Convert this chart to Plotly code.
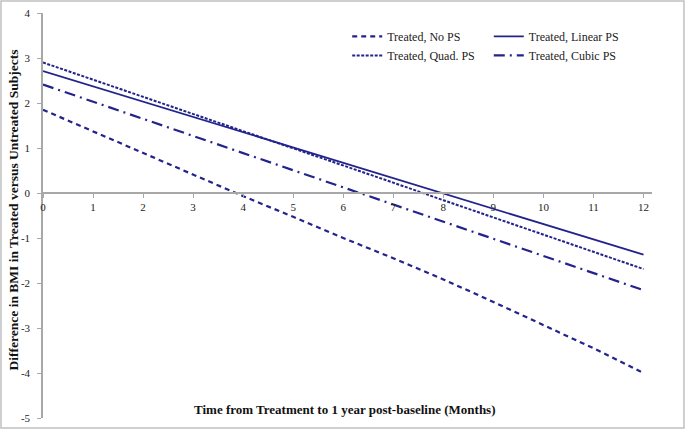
import plotly.graph_objects as go

months = list(range(13))
no_ps = [1.85, 1.37, 0.90, 0.42, -0.07, -0.53, -1.00, -1.45, -1.92, -2.42, -2.93, -3.45, -4.00]
linear_ps = [2.71, 2.37, 2.03, 1.69, 1.35, 1.01, 0.67, 0.33, -0.01, -0.35, -0.69, -1.03, -1.37]
quad_ps = [2.90, 2.52, 2.14, 1.75, 1.37, 0.99, 0.61, 0.23, -0.16, -0.54, -0.92, -1.31, -1.69]
cubic_ps = [2.41, 2.03, 1.65, 1.27, 0.89, 0.51, 0.13, -0.26, -0.64, -1.02, -1.40, -1.78, -2.16]

y_ticks = [4, 3, 2, 1, 0, -1, -2, -3, -4, -5]
x_ticks = list(range(13))

navy = "#23238c"
serif = "Liberation Serif, Times New Roman, serif"

fig = go.Figure()
fig.add_trace(go.Scatter(x=months, y=no_ps, mode="lines", name="Treated, No PS",
                         line=dict(color=navy, width=2.2, dash="5px,4px"), legend="legend"))
fig.add_trace(go.Scatter(x=months, y=quad_ps, mode="lines", name="Treated, Quad. PS",
                         line=dict(color=navy, width=2, dash="3px,1.5px"), legend="legend"))
fig.add_trace(go.Scatter(x=months, y=linear_ps, mode="lines", name="Treated, Linear PS",
                         line=dict(color=navy, width=1.8), legend="legend2"))
fig.add_trace(go.Scatter(x=months, y=cubic_ps, mode="lines", name="Treated, Cubic PS",
                         line=dict(color=navy, width=2.2, dash="11px,5px,2px,5px"), legend="legend2"))

fig.update_layout(
    width=685, height=429,
    margin=dict(l=43, r=33, t=13, b=11, autoexpand=False),
    paper_bgcolor="white", plot_bgcolor="white",
    font=dict(family=serif, size=11, color="#222"),
    xaxis=dict(range=[0, 12.17], tickvals=x_ticks, ticktext=[str(v) for v in x_ticks],
               showgrid=False, zeroline=False, showline=True, linecolor="#a8a8a8", linewidth=1.5,
               ticks="outside", ticklen=4, tickcolor="#a8a8a8", automargin=False,
               anchor="free", position=5/9, tickfont=dict(size=11, family=serif)),
    yaxis=dict(range=[-5, 4], tickvals=y_ticks, ticktext=[str(v) for v in y_ticks],
               showgrid=False, zeroline=False, showline=True, linecolor="#a8a8a8", linewidth=1.5,
               ticks="outside", ticklen=4, tickcolor="#a8a8a8", automargin=False,
               ticklabelstandoff=5, tickfont=dict(size=11, family=serif)),
    legend=dict(x=0.4995, y=0.978, xanchor="left", yanchor="top", bgcolor="rgba(0,0,0,0)",
                font=dict(size=12, family=serif, color="#222"), tracegroupgap=0),
    legend2=dict(x=0.732, y=0.978, xanchor="left", yanchor="top", bgcolor="rgba(0,0,0,0)",
                 font=dict(size=12, family=serif, color="#222"), tracegroupgap=0),
    showlegend=True,
)

fig.add_annotation(text="<b>Difference in BMI in Treated versus Untreated Subjects</b>",
                   xref="paper", yref="paper", x=-0.049, y=0.513, textangle=-90,
                   xanchor="center", yanchor="middle",
                   showarrow=False, font=dict(size=13.5, family=serif, color="#111"))
fig.add_annotation(text="<b>Time from Treatment to 1 year post-baseline (Months)</b>",
                   xref="paper", yref="paper", x=0.496, y=0.02,
                   xanchor="center", yanchor="middle", showarrow=False,
                   font=dict(size=13, family=serif, color="#111"))

fig.add_shape(type="rect", xref="paper", yref="paper",
              x0=-0.069, x1=1.0525, y0=-0.0247, y1=1.0296,
              line=dict(color="#c0c0c0", width=1.5), fillcolor="rgba(0,0,0,0)", layer="below")

fig.write_html("out.html", config={"displayModeBar": False},
               post_script="document.body.style.margin='0px';document.body.style.overflow='hidden';")
